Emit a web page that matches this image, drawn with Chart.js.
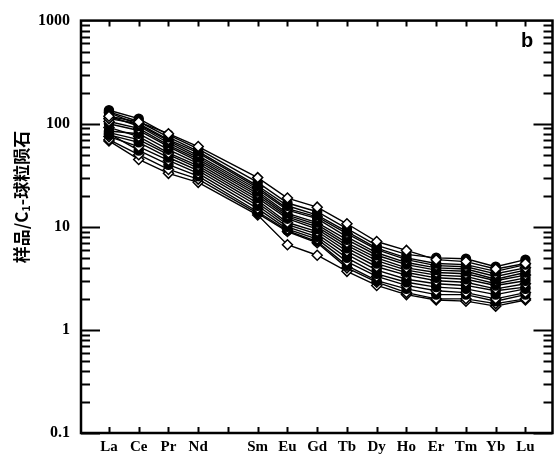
<!DOCTYPE html>
<html>
<head>
<meta charset="utf-8">
<script src="https://cdn.jsdelivr.net/npm/chart.js@4"></script>
<style>
  html, body { margin: 0; padding: 0; background: #fff; }
  #wrap { width: 559px; height: 461px; }
</style>
</head>
<body>
<div id="wrap"><canvas id="reePlot" width="559" height="461"></canvas></div>
<script>
// REE labels along the x axis (Pm has a tick but no label and no data)
const elements = ['La', 'Ce', 'Pr', 'Nd', '', 'Sm', 'Eu', 'Gd', 'Tb', 'Dy', 'Ho', 'Er', 'Tm', 'Yb', 'Lu'];
const measuredPos = [0, 1, 2, 3, 5, 6, 7, 8, 9, 10, 11, 12, 13, 14];

const yTickValues = [0.1, 1, 10, 100, 1000];
const yTickLabels = ['0.1', '1', '10', '100', '1000'];

// chondrite-normalized values, La..Lu (no Pm)
const s1  = [118, 104, 80, 60, 30, 19, 15.5, 10.7, 7.2, 5.9, 4.8, 4.6, 3.9, 4.4];
const s2  = [135, 112, 78, 57, 27, 17, 14, 9.6, 6.6, 5.4, 5.0, 4.9, 4.1, 4.8];
const s3  = [130, 105, 74, 54, 25, 16, 13, 9.0, 6.2, 5.0, 4.4, 4.3, 3.7, 4.3];
const s4  = [112, 100, 70, 52, 24, 15, 12.5, 8.6, 6.0, 4.8, 4.2, 4.1, 3.5, 4.0];
const s5  = [128, 98, 68, 49, 23, 14.5, 12, 8.0, 5.6, 4.5, 4.0, 3.9, 3.3, 3.8];
const s6  = [118, 95, 65, 47, 22, 13.5, 11, 7.5, 5.3, 4.3, 3.8, 3.7, 3.1, 3.6];
const s7  = [105, 90, 62, 45, 21, 13, 10.5, 7.0, 5.0, 4.0, 3.6, 3.5, 3.0, 3.4];
const s8  = [100, 86, 60, 43, 20, 12.5, 10, 6.6, 4.7, 3.8, 3.4, 3.3, 2.8, 3.2];
const s9  = [85, 80, 56, 41, 19, 12, 9.5, 6.2, 4.4, 3.6, 3.2, 3.1, 2.7, 3.0];
const s10 = [92, 75, 52, 39, 18, 11, 9.0, 5.8, 4.1, 3.4, 3.0, 2.9, 2.5, 2.8];
const s11 = [82, 70, 50, 37, 17, 10.5, 8.5, 5.4, 3.8, 3.1, 2.8, 2.7, 2.4, 2.6];
const s12 = [78, 66, 47, 35, 16, 10, 8.0, 5.0, 3.5, 2.9, 2.6, 2.5, 2.2, 2.5];
const s13 = [75, 60, 44, 33, 15, 9.5, 7.6, 4.6, 3.3, 2.7, 2.4, 2.3, 2.0, 2.3];
const s14 = [80, 55, 40, 31, 14, 9.2, 7.2, 4.2, 3.0, 2.5, 2.2, 2.2, 1.9, 2.2];
const s15 = [70, 50, 36, 29, 13.5, 9.0, 7.0, 4.0, 2.9, 2.3, 2.0, 2.0, 1.8, 2.0];
const s16 = [68, 45, 33, 27, 13.0, 6.7, 5.3, 3.7, 2.7, 2.2, 1.95, 1.9, 1.7, 1.95];

const samples = [s1, s2, s3, s4, s5, s6, s7, s8, s9, s10, s11, s12, s13, s14, s15, s16];
const markers = ['d', 'c', 'c', 'd', 'c', 'c', 'd', 'c', 'c', 'd', 'c', 'c', 'd', 'c', 'd', 'd'];

const serifFont = "'Liberation Serif', 'DejaVu Serif', serif";

// frame and inward tick marks
const framePlugin = {
    id: 'frame',
    afterDraw(chart) {
        const ctx = chart.ctx;
        const a = chart.chartArea;
        const xs = chart.scales.x;
        const ys = chart.scales.y;
        ctx.save();
        ctx.strokeStyle = '#000';
        ctx.lineWidth = 2;
        ctx.beginPath();
        elements.forEach((e, i) => {
            const px = Math.round(xs.getPixelForValue(i)) + 0.5;
            ctx.moveTo(px, a.bottom); ctx.lineTo(px, a.bottom - 6);
            ctx.moveTo(px, a.top); ctx.lineTo(px, a.top + 6);
        });
        for (let d = 0.1; d < 1000; d *= 10) {
            for (let m = 1; m <= 9; m++) {
                const v = d * m;
                const py = Math.round(ys.getPixelForValue(v)) + 0.5;
                const len = m === 1 ? 19 : 9;
                ctx.moveTo(a.left, py); ctx.lineTo(a.left + len, py);
                ctx.moveTo(a.right, py); ctx.lineTo(a.right - len, py);
            }
        }
        ctx.stroke();
        ctx.lineWidth = 2.5;
        ctx.strokeRect(a.left, a.top, a.right - a.left, a.bottom - a.top);

        // panel letter
        ctx.fillStyle = '#000';
        ctx.font = "bold 20px 'Liberation Sans', Arial, sans-serif";
        ctx.textAlign = 'center';
        ctx.textBaseline = 'alphabetic';
        ctx.fillText('b', 527, 47);

        // y axis title, rotated
        ctx.translate(22, 197);
        ctx.rotate(-Math.PI / 2);
        const big = "bold 17px 'Noto Sans CJK SC', sans-serif";
        const small = "bold 11px 'Noto Sans CJK SC', sans-serif";
        const parts = [['样品/C', big, 0], ['1', small, 4], ['-球粒陨石', big, 0]];
        ctx.textBaseline = 'middle';
        ctx.textAlign = 'left';
        let total = 0;
        parts.forEach(p => { ctx.font = p[1]; total += ctx.measureText(p[0]).width; });
        let x = -total / 2;
        parts.forEach(p => {
            ctx.font = p[1];
            ctx.fillText(p[0], x, p[2]);
            x += ctx.measureText(p[0]).width;
        });
        ctx.restore();
    }
};

const ctx = document.getElementById('reePlot').getContext('2d');
new Chart(ctx, {
    type: 'line',
    data: {
        datasets: samples.map((s, k) => ({
            data: s.map((v, i) => ({ x: measuredPos[i], y: v })),
            borderColor: '#000',
            borderWidth: 1.4,
            fill: false,
            tension: 0,
            pointStyle: markers[k] === 'd' ? 'rectRot' : 'circle',
            pointRadius: markers[k] === 'd' ? 5 : 4.5,
            pointBackgroundColor: markers[k] === 'd' ? '#fff' : '#000',
            pointBorderColor: '#000',
            pointBorderWidth: 1.5
        }))
    },
    options: {
        responsive: false,
        animation: false,
        events: [],
        layout: { padding: { top: 13, right: 6, left: 0, bottom: 0 } },
        plugins: { legend: { display: false }, tooltip: { enabled: false } },
        scales: {
            x: {
                type: 'linear',
                min: -0.94,
                max: 14.91,
                grid: { display: false, drawTicks: false },
                border: { display: false },
                afterBuildTicks: (scale) => { scale.ticks = elements.map((e, i) => ({ value: i })); },
                afterFit: (scale) => { scale.height = 28; },
                ticks: {
                    autoSkip: false,
                    maxRotation: 0,
                    padding: 5,
                    color: '#000',
                    font: { family: serifFont, size: 15, weight: 'bold' },
                    callback: (v) => elements[v] || ''
                }
            },
            y: {
                type: 'logarithmic',
                min: 0.1,
                max: 1000,
                grid: { display: false, drawTicks: false },
                border: { display: false },
                afterBuildTicks: (scale) => { scale.ticks = yTickValues.map(v => ({ value: v })); },
                afterFit: (scale) => { scale.width = 81; },
                ticks: {
                    padding: 11,
                    color: '#000',
                    font: { family: serifFont, size: 16, weight: 'bold' },
                    callback: (v) => {
                        const i = yTickValues.findIndex(t => Math.abs(t - v) < v * 1e-6);
                        return i >= 0 ? yTickLabels[i] : '';
                    }
                }
            }
        }
    },
    plugins: [framePlugin]
});
</script>
</body>
</html>
